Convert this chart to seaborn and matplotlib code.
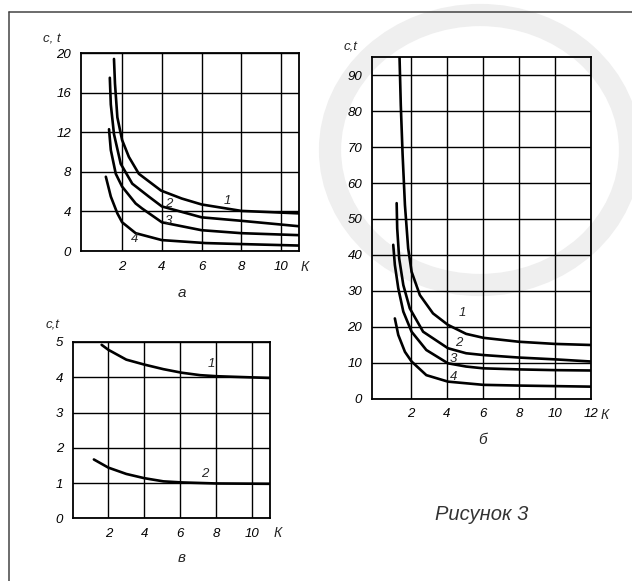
import numpy as np
import pandas as pd
import matplotlib
matplotlib.use("Agg")
import matplotlib.pyplot as plt
import seaborn as sns
from matplotlib.patches import Ellipse

# Panel "а": c, t against K, curves 1-4
K_A1 = [1.59, 1.64, 1.76, 2.0, 2.34, 2.84, 3.96, 5.0, 6.0, 8.0, 10.9]
C_A1 = [19.4, 16.9, 13.5, 11.2, 9.5, 7.8, 6.1, 5.3, 4.7, 4.05, 3.8]
K_A2 = [1.38, 1.43, 1.59, 1.93, 2.51, 3.34, 4.0, 6.0, 8.0, 10.9]
C_A2 = [17.5, 14.8, 11.8, 8.8, 6.8, 5.5, 4.5, 3.4, 3.05, 2.5]
K_A3 = [1.34, 1.43, 1.68, 2.0, 2.68, 3.0, 4.0, 6.0, 8.0, 10.9]
C_A3 = [12.3, 10.2, 7.8, 6.5, 4.8, 4.3, 2.9, 2.1, 1.8, 1.6]
K_A4 = [1.18, 1.43, 1.76, 2.0, 2.68, 4.0, 6.2, 8.0, 10.9]
C_A4 = [7.5, 5.5, 3.8, 2.9, 1.8, 1.1, 0.8, 0.7, 0.55]

# Panel "б"
K_B1 = [1.36, 1.43, 1.53, 1.66, 1.84, 2.03, 2.49, 3.22, 4.05, 5.06, 6.02, 8.0, 10.0, 12.0]
C_B1 = [95, 81.7, 68, 53.9, 41.8, 35.3, 28.8, 23.7, 20.5, 18.0, 16.9, 15.8, 15.2, 14.9]
K_B2 = [1.2, 1.23, 1.34, 1.57, 1.93, 2.67, 4.05, 5.06, 6.02, 8.0, 10.0, 12.0]
C_B2 = [54.4, 47.4, 39, 31.6, 25.1, 18.6, 14.0, 12.6, 12.1, 11.4, 10.9, 10.3]
K_B3 = [1.01, 1.1, 1.29, 1.57, 2.03, 2.85, 4.05, 5.06, 6.02, 8.0, 10.0, 12.0]
C_B3 = [42.8, 37.2, 30.7, 24.2, 18.6, 13.5, 9.8, 8.9, 8.4, 8.1, 7.9, 7.8]
K_B4 = [1.1, 1.29, 1.66, 2.03, 2.85, 4.05, 6.02, 8.0, 12.0]
C_B4 = [22.3, 17.7, 13.0, 10.3, 6.5, 4.7, 3.8, 3.6, 3.3]

# Panel "в"
K_C1 = [1.63, 2.0, 3.0, 4.0, 5.06, 6.07, 7.1, 8.02, 10.98]
C_C1 = [4.92, 4.78, 4.5, 4.36, 4.23, 4.13, 4.06, 4.03, 3.98]
K_C2 = [1.2, 2.0, 3.0, 4.0, 5.06, 6.07, 8.0, 10.98]
C_C2 = [1.67, 1.44, 1.26, 1.14, 1.05, 1.02, 0.99, 0.98]

# curve number labels: (text, K, c)
LABELS_A = [("1", 7.3, 5.1), ("2", 4.37, 4.7), ("3", 4.32, 3.05), ("4", 2.65, 1.2)]
LABELS_B = [("1", 4.84, 23.7), ("2", 4.66, 15.5), ("3", 4.33, 11.0), ("4", 4.37, 6.1)]
LABELS_C = [("1", 7.74, 4.37), ("2", 7.37, 1.26)]

sns.set_theme(style="ticks")
plt.rcParams["font.family"] = ["Liberation Sans", "DejaVu Sans"]
plt.rcParams["font.style"] = "italic"

W, H = 632, 581
fig = plt.figure(figsize=(W / 100, H / 100), dpi=100)

# background layer: faint watermark ring + cropped page frame
bg = fig.add_axes([0, 0, 1, 1], zorder=-1)
bg.set_xlim(0, W)
bg.set_ylim(H, 0)
bg.axis("off")
bg.add_patch(Ellipse((480, 150), 300, 270, fill=False, lw=16, ec="#efefef"))
bg.plot([9, W], [12, 12], color="#444444", lw=1.1)
bg.plot([9, 9], [12, H], color="#444444", lw=1.1)


def px_axes(left, top, right, bottom):
    return fig.add_axes([left / W, 1 - bottom / H, (right - left) / W, (bottom - top) / H])


def curves_frame(pairs):
    parts = []
    for i, (k, c) in enumerate(pairs):
        parts.append(pd.DataFrame({"K": k, "c": c, "curve": i + 1}))
    return pd.concat(parts, ignore_index=True)


def draw_panel(ax, pairs, labels, xlim, ylim, xticks, yticks):
    df = curves_frame(pairs)
    sns.lineplot(data=df, x="K", y="c", units="curve", estimator=None,
                 sort=False, color="black", lw=1.9, ax=ax)
    ax.set_facecolor("none")
    ax.set_xlim(*xlim)
    ax.set_ylim(*ylim)
    ax.set_xticks(xticks)
    ax.set_yticks(yticks)
    ax.grid(True, color="black", lw=1.0)
    ax.tick_params(length=0, pad=7, labelsize=9.5, colors="black")
    for s in ax.spines.values():
        s.set_visible(True)
        s.set_color("black")
        s.set_linewidth(1.3)
    ax.set_xlabel("")
    ax.set_ylabel("")
    for txt, k, c in labels:
        ax.text(k, c, txt, ha="center", va="center", fontsize=9.5)


ax_a = px_axes(81, 53, 299, 251)
draw_panel(ax_a, [(K_A1, C_A1), (K_A2, C_A2), (K_A3, C_A3), (K_A4, C_A4)], LABELS_A,
           (-0.07, 10.9), (0, 20), [2, 4, 6, 8, 10], [0, 4, 8, 12, 16, 20])

ax_b = px_axes(372, 57, 591, 398.5)
draw_panel(ax_b, [(K_B1, C_B1), (K_B2, C_B2), (K_B3, C_B3), (K_B4, C_B4)], LABELS_B,
           (-0.17, 12.0), (0, 95.1), [2, 4, 6, 8, 10, 12], list(range(0, 100, 10)))

ax_c = px_axes(73, 342, 270, 518.4)
draw_panel(ax_c, [(K_C1, C_C1), (K_C2, C_C2)], LABELS_C,
           (0.04, 10.98), (0, 5), [2, 4, 6, 8, 10], [0, 1, 2, 3, 4, 5])


def fig_text(x, y, s, **kw):
    fig.text(x / W, 1 - y / H, s, ha="center", va="center", **kw)


# axis names and panel letters
fig_text(52, 39, "c, t", fontsize=9.5)
fig_text(351, 47, "c,t", fontsize=9.5)
fig_text(53, 326, "c,t", fontsize=9.5)
for x, y in [(305, 267), (605, 415), (278, 533)]:
    fig_text(x, y, "К", fontsize=10)
fig_text(182, 293, "а", fontsize=11)
fig_text(483, 440, "б", fontsize=11)
fig_text(182, 558, "в", fontsize=11)
fig_text(482, 515, "Рисунок 3", fontsize=14.5, color="#333333")

plt.savefig("out.png", dpi=100)
plt.close()
